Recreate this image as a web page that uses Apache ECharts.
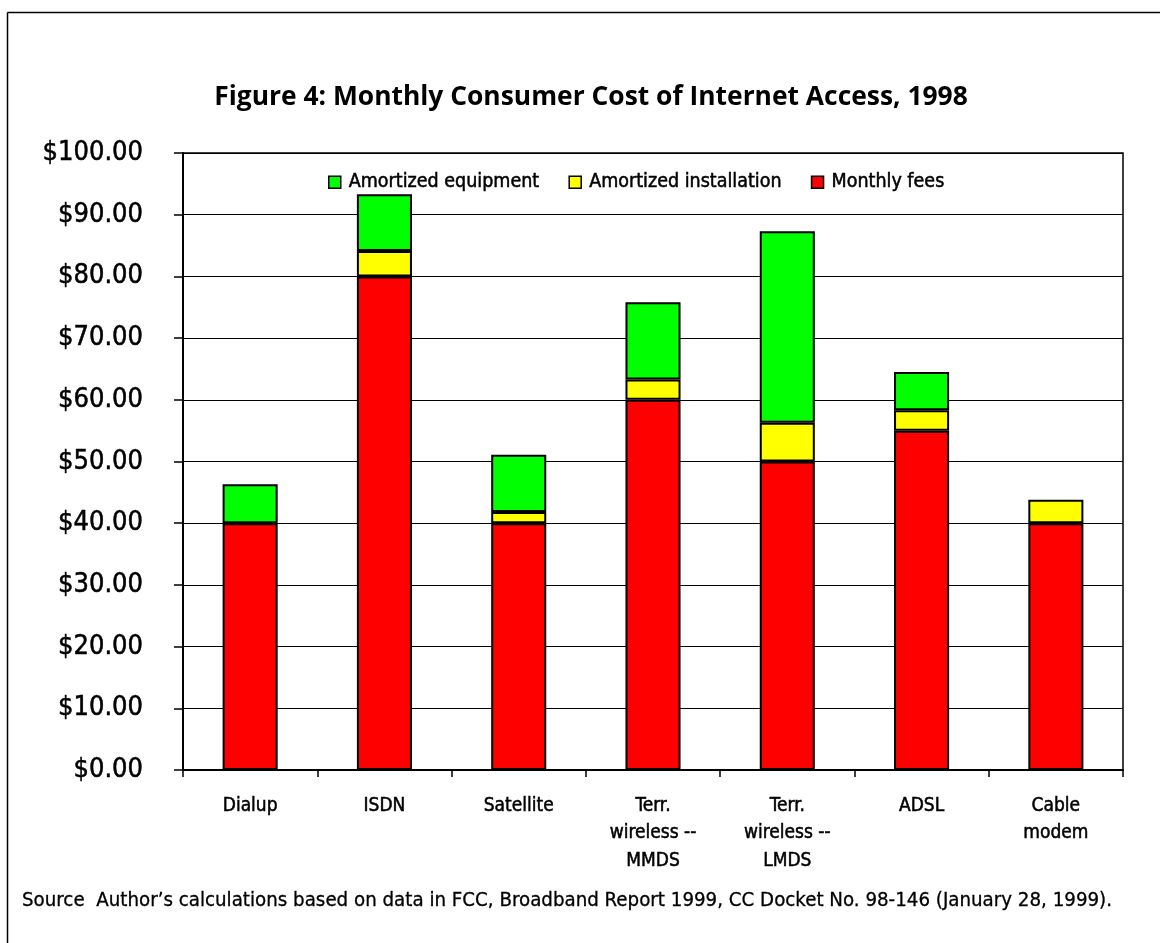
<!DOCTYPE html>
<html>
<head>
<meta charset="utf-8">
<title>Monthly Consumer Cost of Internet Access, 1998</title>
<script src="https://cdn.jsdelivr.net/npm/echarts@6/dist/echarts.min.js"></script>
<style>
  html, body { margin: 0; padding: 0; background: #fff; }
  #chart { width: 1160px; height: 943px; }
</style>
</head>
<body>
<div id="chart"></div>
<script>
// Access technologies (x axis)
const categories = [
  'Dialup', 'ISDN', 'Satellite', 'Terr.\nwireless --\nMMDS',
  'Terr.\nwireless --\nLMDS', 'ADSL', 'Cable\nmodem'
];

// Monthly cost components, US dollars
const monthlyFees = [40, 80, 40, 60, 50, 55, 40];
const amortizedInstallation = [0, 4.1, 1.8, 3.3, 6.3, 3.3, 3.8];
const amortizedEquipment = [6.3, 9.2, 9.3, 12.5, 31.0, 6.2, 0];

// Y axis ticks
const yTicks = { min: 0, max: 100, interval: 10 };

const condensed = '"DejaVu Sans Condensed", "Liberation Sans Narrow", sans-serif';
const barBorder = { borderColor: '#000', borderWidth: 2 };
// thin outline around condensed text to give it a medium weight
const medium = { textBorderColor: '#000', textBorderWidth: 0.5 };

const chart = echarts.init(document.getElementById('chart'), null, { renderer: 'canvas' });

chart.setOption({
  animation: false,
  backgroundColor: '#fff',
  title: {
    text: 'Figure 4: Monthly Consumer Cost of Internet Access, 1998',
    left: 586,
    top: 79,
    textAlign: 'center',
    textStyle: {
      fontFamily: '"Open Sans", Lato, sans-serif',
      fontWeight: 'bold',
      fontSize: 26.4,
      color: '#000'
    }
  },
  legend: {
    data: ['Amortized equipment', 'Amortized installation', 'Monthly fees'],
    left: 323,
    top: 167,
    itemWidth: 12,
    itemHeight: 12,
    itemGap: 29,
    icon: 'rect',
    itemStyle: { borderColor: '#000', borderWidth: 1.5 },
    textStyle: Object.assign({ fontFamily: condensed, fontSize: 19.5, color: '#000', padding: [0, 0, 0, 3] }, medium)
  },
  grid: {
    left: 183,
    top: 153,
    right: 37,
    bottom: 173,
    show: true,
    borderColor: '#000',
    borderWidth: 1.5,
    backgroundColor: 'transparent'
  },
  xAxis: {
    type: 'category',
    data: categories,
    axisLine: { lineStyle: { color: '#000', width: 2 } },
    axisTick: { show: true, length: 7, lineStyle: { color: '#000', width: 1.5 } },
    axisLabel: Object.assign({
      interval: 0,
      margin: 22,
      fontFamily: condensed,
      fontSize: 19,
      lineHeight: 27.5,
      color: '#000'
    }, medium)
  },
  yAxis: {
    type: 'value',
    min: yTicks.min,
    max: yTicks.max,
    interval: yTicks.interval,
    axisLine: { show: true, lineStyle: { color: '#000', width: 2 } },
    axisTick: { show: true, length: 9, lineStyle: { color: '#000', width: 1.5 } },
    splitLine: { show: true, lineStyle: { color: '#000', width: 1.2 } },
    axisLabel: Object.assign({
      margin: 40,
      fontFamily: condensed,
      fontSize: 27,
      color: '#000',
      formatter: v => '$' + v.toFixed(2)
    }, medium)
  },
  series: [
    {
      name: 'Monthly fees',
      type: 'bar',
      stack: 'cost',
      barWidth: '41%',
      data: monthlyFees,
      itemStyle: Object.assign({ color: '#ff0000' }, barBorder)
    },
    {
      name: 'Amortized installation',
      type: 'bar',
      stack: 'cost',
      data: amortizedInstallation.map(v => (v === 0 ? null : v)),
      itemStyle: Object.assign({ color: '#ffff00' }, barBorder)
    },
    {
      name: 'Amortized equipment',
      type: 'bar',
      stack: 'cost',
      data: amortizedEquipment.map(v => (v === 0 ? null : v)),
      itemStyle: Object.assign({ color: '#00ff00' }, barBorder)
    }
  ],
  graphic: [
    // outer frame (left and top edges)
    { type: 'line', shape: { x1: 7.5, y1: 12.5, x2: 1160, y2: 12.5 }, style: { stroke: '#000', lineWidth: 1.5 } },
    { type: 'line', shape: { x1: 7.5, y1: 12.5, x2: 7.5, y2: 943 }, style: { stroke: '#000', lineWidth: 1.5 } },
    {
      type: 'text',
      x: 22,
      y: 901,
      style: {
        text: 'Source  Author\u2019s calculations based on data in FCC, Broadband Report 1999, CC Docket No. 98-146 (January 28, 1999).',
        font: '20.3px ' + condensed,
        fill: '#000',
        verticalAlign: 'middle',
        stroke: '#000',
        lineWidth: 0.3
      }
    }
  ]
});
</script>
</body>
</html>
